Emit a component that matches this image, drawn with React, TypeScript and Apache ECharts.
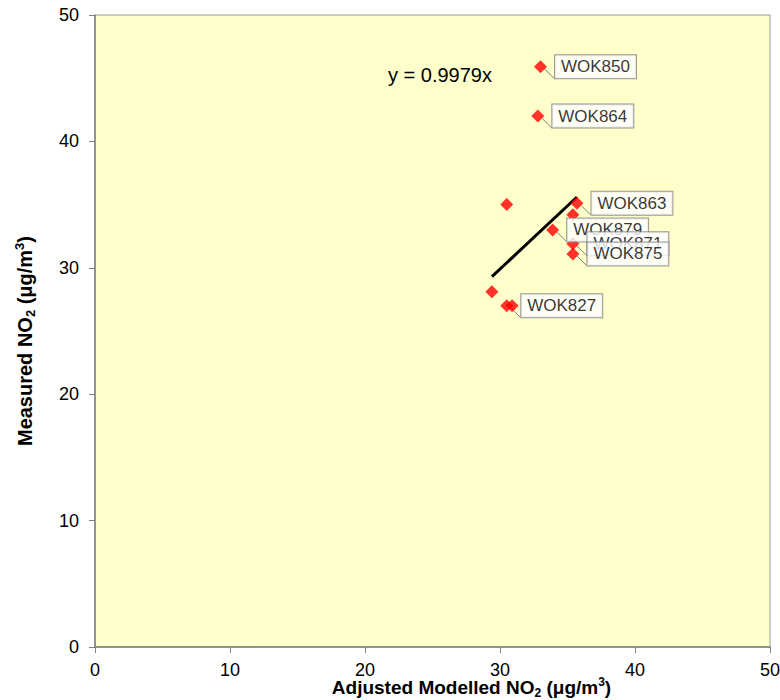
import React, { useEffect, useRef } from "react";
import * as echarts from "echarts";

const siteNames = ["WOK850", "WOK864", "", "WOK863", "", "WOK879", "WOK871", "WOK875", "", "WOK827", ""];
const modelled = [33.0, 32.8, 30.5, 35.7, 35.4, 33.9, 35.4, 35.4, 29.4, 30.5, 30.9];
const measured = [45.9, 42.0, 35.0, 35.1, 34.2, 33.0, 31.9, 31.1, 28.1, 27.0, 27.0];
const trendX = [29.4, 35.7];
const trendY = [29.3, 35.6];
const equationText = "y = 0.9979x";
const axisTicks = [0, 10, 20, 30, 40, 50];

const FONT = "Liberation Sans, Arial, sans-serif";

function rich(size: number) {
  const small = Math.round(size * 0.65);
  return {
    b: { fontSize: size, fontWeight: "bold", fontFamily: FONT, color: "#000", lineHeight: size + 4 },
    sub: { fontSize: small, fontWeight: "bold", fontFamily: FONT, color: "#000", verticalAlign: "bottom", lineHeight: size + 4 },
    sup: { fontSize: small, fontWeight: "bold", fontFamily: FONT, color: "#000", verticalAlign: "top", lineHeight: size + 4 },
  };
}

export default function App() {
  const ref = useRef<HTMLDivElement>(null);
  useEffect(() => {
    if (!ref.current) return;
    const chart = echarts.init(ref.current, null, { renderer: "svg" });
    const points = modelled.map((x, i) => ({
      value: [x, measured[i]],
      name: siteNames[i],
      label: { show: siteNames[i] !== "" },
      labelLine: { show: siteNames[i] !== "" },
    }));
    chart.setOption({
      animation: false,
      backgroundColor: "#ffffff",
      grid: {
        left: 95,
        top: 15,
        right: 10,
        bottom: 53,
        outerBoundsMode: "none",
        containLabel: false,
        show: true,
        backgroundColor: "#FFFFCC",
        borderColor: "#9a9a9a",
        borderWidth: 1,
      },
      xAxis: {
        type: "value",
        min: axisTicks[0],
        max: axisTicks[axisTicks.length - 1],
        interval: 10,
        name: "{b|Adjusted Modelled NO}{sub|2}{b| (μg/m}{sup|3}{b|)}",
        nameLocation: "middle",
        nameGap: 29,
        nameMoveOverlap: false,
        nameTextStyle: { rich: rich(19), padding: [0, 0, 0, 78] },
        axisLine: { show: true, lineStyle: { color: "#808080", width: 1.5 } },
        axisTick: { show: true, length: 6, lineStyle: { color: "#808080" } },
        axisLabel: { fontSize: 18, color: "#000", fontFamily: FONT, margin: 14 },
        splitLine: { show: false },
      },
      yAxis: {
        type: "value",
        min: axisTicks[0],
        max: axisTicks[axisTicks.length - 1],
        interval: 10,
        name: "{b|Measured NO}{sub|2}{b| (μg/m}{sup|3}{b|)}",
        nameLocation: "middle",
        nameGap: 58,
        nameMoveOverlap: false,
        nameRotate: 90,
        nameTextStyle: { rich: rich(20), padding: [0, 20, 0, 0] },
        axisLine: { show: true, lineStyle: { color: "#808080", width: 1.5 } },
        axisTick: { show: true, length: 6, lineStyle: { color: "#808080" } },
        axisLabel: { fontSize: 18, color: "#000", fontFamily: FONT, margin: 16 },
        splitLine: { show: false },
      },
      series: [
        {
          type: "line",
          data: trendX.map((x, i) => [x, trendY[i]]),
          showSymbol: false,
          symbol: "none",
          lineStyle: { color: "#000", width: 3 },
          z: 3,
        },
        {
          type: "scatter",
          symbol: "diamond",
          symbolSize: [13, 13],
          itemStyle: { color: "#FF0000" },
          data: points,
          z: 4,
          label: {
            show: true,
            position: "right",
            distance: 8,
            formatter: (p: any) => p.name,
            fontSize: 17,
            fontFamily: FONT,
            color: "#000",
            backgroundColor: "#ffffff",
            borderColor: "#808080",
            borderWidth: 1,
            padding: [3, 6, 3, 6],
          },
          labelLine: { show: true, lineStyle: { color: "#808080", width: 1 } },
        },
      ],
      graphic: [
        {
          type: "text",
          left: 388,
          top: 65,
          style: { text: equationText, fontSize: 20, fontFamily: FONT, fill: "#000" },
        },
      ],
    });
    return () => chart.dispose();
  }, []);
  return <div ref={ref} style={{ position: "absolute", left: 0, top: 0, width: 780, height: 700 }} />;
}
